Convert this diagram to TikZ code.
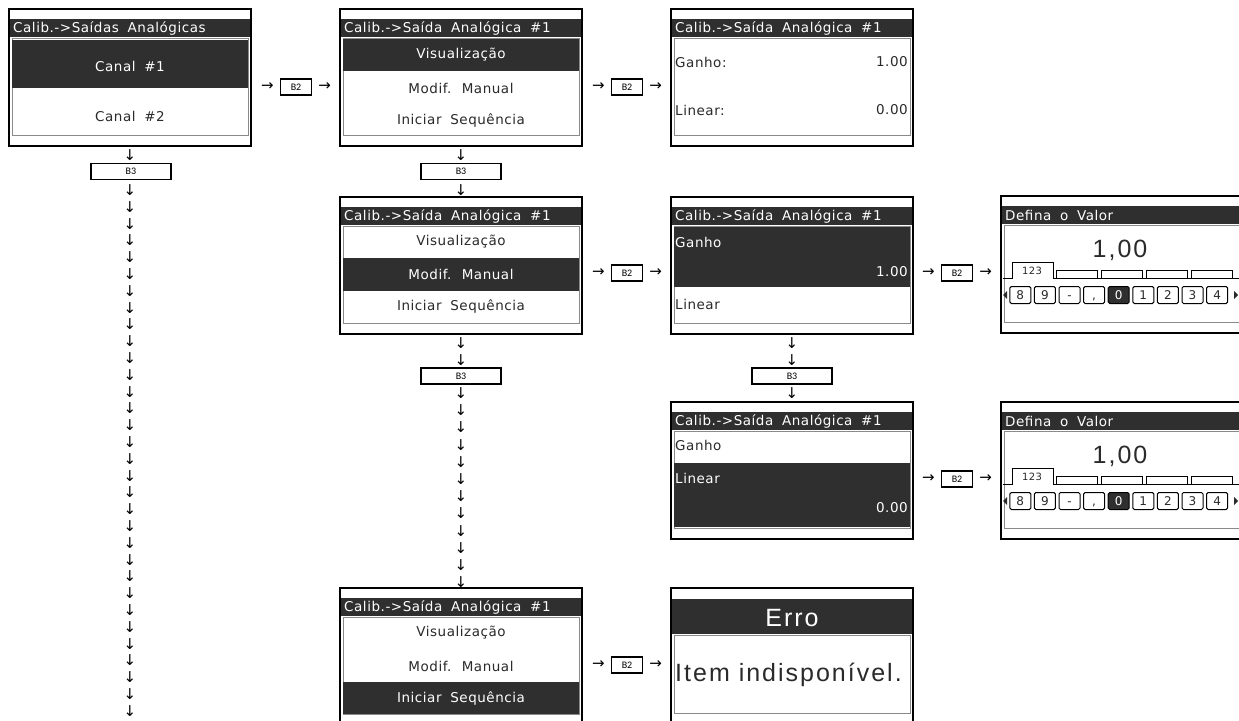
\documentclass[tikz,border=0pt]{standalone}
\usepackage{fontspec}
\setmainfont{DejaVu Sans}
\newfontfamily\lcdfont[LetterSpace=4,WordSpace=1.8]{DejaVu Sans}
\newfontfamily\btnfont{Carlito}
\newfontfamily\thinfont[LetterSpace=8]{Liberation Sans}
\usetikzlibrary{positioning}
\definecolor{LcdDark}{HTML}{2F2F2F}
\definecolor{LcdInk}{HTML}{2A2A2A}
\definecolor{LcdRule}{HTML}{8A8A8A}

\tikzset{
  frame/.style={draw=black,line width=2pt},
  darkbar/.style={fill=LcdDark},
  rule/.style={draw=LcdRule,line width=1pt},
  lcdtext/.style={inner sep=0pt,text=LcdInk,font=\lcdfont\fontsize{13.5}{13.5}\selectfont},
  lcdlit/.style={lcdtext,text=white},
  thintext/.style={inner sep=0pt,text=LcdInk,font=\thinfont\fontsize{25}{25}\selectfont},
  btn/.style={draw=black,line width=1.4pt,fill=white,inner sep=0pt,minimum width=31pt,minimum height=16pt,font=\btnfont\fontsize{10}{10}\selectfont},
  widebtn/.style={btn,minimum width=80pt},
  go/.style={inner sep=0pt,font=\fontsize{15}{15}\selectfont},
  tabline/.style={draw=black,line width=1pt},
  keycap/.style={draw=black,line width=1pt,rounded corners=1.5pt,minimum width=21pt,minimum height=17pt,inner sep=0pt,text height=8.5pt,text depth=0pt,text=LcdInk,font=\lcdfont\fontsize{12}{12}\selectfont},
  keysel/.style={keycap,fill=LcdDark,text=white},
}

% white panel, title bar and grey inner rule of one screen
\newcommand\lcdbase[2]{%
  \fill[white] (0,0) rectangle (242,137);
  \fill[darkbar] (1,10) rectangle (241,28);
  \draw[rule] (3,29.5) -- (3,126.5) -- (239,126.5) -- (239,29.5) -- cycle;
  \node[lcdlit,anchor=west] (#1-title) at (4,19.5) {#2};
}
\newcommand\lcdframe{\draw[frame] (0,0) rectangle (242,137);}

% value entry screen: big value, tabs, key strip
\newcommand\keypad[1]{%
  \lcdbase{#1}{Defina o Valor}
  \node[thintext] (#1-val) at (119,54) {1,00};
  \draw[tabline] (2,82) -- (11,82) -- (11,66) -- (52,66) -- (52,82) -- (241,82);
  \foreach \tx in {55,100,145,190}{\draw[tabline] (\tx,82) -- (\tx,74) -- ({\tx+41},74) -- ({\tx+41},82);}
  \node[inner sep=0pt,text=LcdInk,font=\lcdfont\fontsize{10}{10}\selectfont] (#1-tab) at (31,75) {123};
  \foreach \k/\s [count=\i] in {8/keycap,9/keycap,-/keycap,{,}/keycap,0/keysel,1/keycap,2/keycap,3/keycap,4/keycap}{
    \node[\s] (#1-k\i) at ({-5.3+24.6*\i},99) {\k};
  }
  \fill[LcdInk] (2,99) -- (6,95) -- (6,103) -- cycle;
  \fill[LcdInk] (237,99) -- (233,95) -- (233,103) -- cycle;
  \lcdframe
}

\begin{document}
\begin{tikzpicture}[x=1pt,y=-1pt]
  \clip (0,0) rectangle (1239,720);
  \fill[white] (0,0) rectangle (1239,720);

  % channel list
  \begin{scope}[shift={(9,9)}]
    \lcdbase{ch}{Calib.->Saídas Analógicas}
    \fill[darkbar] (3,31) rectangle (239,79);
    \node[lcdlit] (ch-1) at (121,57) {Canal \#1};
    \node[lcdtext] (ch-2) at (121,107) {Canal \#2};
    \lcdframe
  \end{scope}

  % output menu, first item
  \begin{scope}[shift={(340,9)}]
    \lcdbase{mv}{Calib.->Saída Analógica \#1}
    \fill[darkbar] (3,30) rectangle (239,62);
    \node[lcdlit] (mv-1) at (121,46) {Visualização};
    \node[lcdtext] (mv-2) at (121,79) {Modif. Manual};
    \node[lcdtext] (mv-3) at (121,112) {Iniciar Sequência};
    \lcdframe
  \end{scope}

  % current values
  \begin{scope}[shift={(671,9)}]
    \lcdbase{vw}{Calib.->Saída Analógica \#1}
    \node[lcdtext,anchor=west] (vw-g) at (4,53) {Ganho:};
    \node[lcdtext,anchor=east] (vw-gv) at (237,53) {1.00};
    \node[lcdtext,anchor=west] (vw-l) at (4,101) {Linear:};
    \node[lcdtext,anchor=east] (vw-lv) at (237,101) {0.00};
    \lcdframe
  \end{scope}

  % output menu, second item
  \begin{scope}[shift={(340,197)}]
    \lcdbase{mm}{Calib.->Saída Analógica \#1}
    \fill[darkbar] (3,61) rectangle (239,94);
    \node[lcdtext] (mm-1) at (121,45) {Visualização};
    \node[lcdlit] (mm-2) at (121,77) {Modif. Manual};
    \node[lcdtext] (mm-3) at (121,110) {Iniciar Sequência};
    \lcdframe
  \end{scope}

  % gain selected
  \begin{scope}[shift={(671,197)}]
    \lcdbase{gs}{Calib.->Saída Analógica \#1}
    \fill[darkbar] (3,30) rectangle (239,90);
    \node[lcdlit,anchor=west] (gs-g) at (4,45) {Ganho};
    \node[lcdlit,anchor=east] (gs-gv) at (237,75) {1.00};
    \node[lcdtext,anchor=west] (gs-l) at (4,107) {Linear};
    \lcdframe
  \end{scope}

  \begin{scope}[shift={(1001,196)}]
    \keypad{kg}
  \end{scope}

  % offset selected
  \begin{scope}[shift={(671,402)}]
    \lcdbase{ls}{Calib.->Saída Analógica \#1}
    \draw[rule] (3,29.5) rectangle (239,61);
    \fill[darkbar] (3,61) rectangle (239,125);
    \node[lcdtext,anchor=west] (ls-g) at (4,43) {Ganho};
    \node[lcdlit,anchor=west] (ls-l) at (4,76) {Linear};
    \node[lcdlit,anchor=east] (ls-lv) at (237,106) {0.00};
    \lcdframe
  \end{scope}

  \begin{scope}[shift={(1001,402)}]
    \keypad{kl}
  \end{scope}

  % output menu, third item
  \begin{scope}[shift={(340,588)}]
    \lcdbase{ms}{Calib.->Saída Analógica \#1}
    \fill[darkbar] (3,94) rectangle (239,126);
    \node[lcdtext] (ms-1) at (121,45) {Visualização};
    \node[lcdtext] (ms-2) at (121,78) {Modif. Manual};
    \node[lcdlit] (ms-3) at (121,110) {Iniciar Sequência};
    \lcdframe
  \end{scope}

  % error message
  \begin{scope}[shift={(671,588)}]
    \fill[white] (0,0) rectangle (242,137);
    \fill[darkbar] (1,11) rectangle (241,46);
    \draw[rule] (3,47) rectangle (239,125);
    \node[thintext,text=white] (er-t) at (121,30) {Erro};
    \node[thintext,anchor=west] (er-m) at (4,87) {Item indisponível.};
    \lcdframe
  \end{scope}

  % B2 keys between screens
  \foreach \n/\p in {ka/{296,87},kb/{627,87},kc/{627,273},kd/{957,273},ke/{957,479},kf/{627,665}}{
    \node[btn] (\n) at (\p) {B2};
    \node[go,left=6pt of \n] (\n-in) {→};
    \node[go,right=6pt of \n] (\n-out) {→};
  }

  % B3 keys down the columns
  \node[go] (ca-0) at (130,155) {↓};
  \node[widebtn] (ca-b3) at (131,171.5) {B3};
  \foreach \i in {0,...,31}{\node[go] (ca-\i) at (130,{190+16.8*\i}) {↓};}

  \node[go] (cb-t) at (461,155) {↓};
  \node[widebtn] (cb-b3) at (461,171.5) {B3};
  \node[go] (cb-u) at (461,190) {↓};
  \node[go] (cb-v) at (461,343) {↓};
  \node[go] (cb-w) at (461,360) {↓};
  \node[widebtn] (cb-b3b) at (461,376) {B3};
  \foreach \i in {0,...,11}{\node[go] (cb-\i) at (461,{393+17.2*\i}) {↓};}

  \node[go] (cc-v) at (792,343) {↓};
  \node[go] (cc-w) at (792,360) {↓};
  \node[widebtn] (cc-b3) at (792,376) {B3};
  \node[go] (cc-u) at (792,393) {↓};
\end{tikzpicture}
\end{document}
